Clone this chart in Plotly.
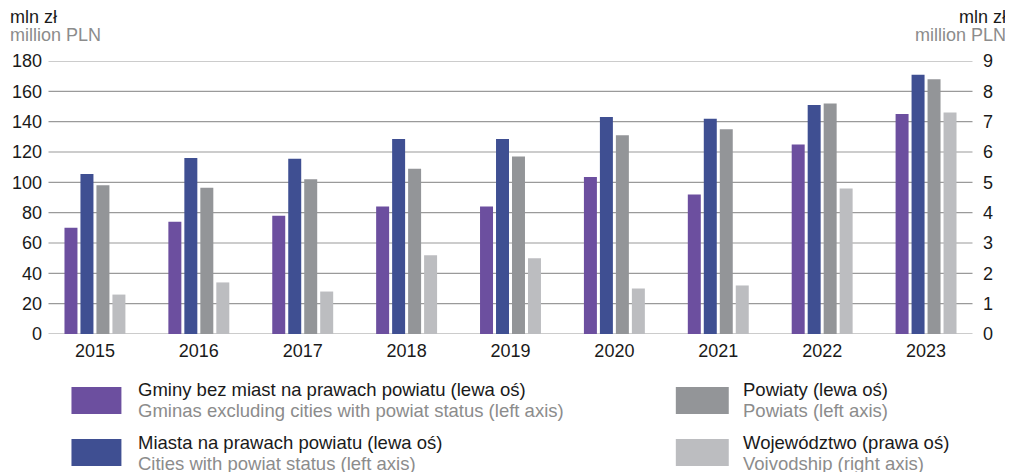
import plotly.graph_objects as go

years = ["2015", "2016", "2017", "2018", "2019", "2020", "2021", "2022", "2023"]
gminy = [70, 74, 78, 84, 84, 103.5, 92, 125, 145]
miasta = [105.5, 116, 115.5, 128.5, 128.5, 143, 142, 151, 171]
powiaty = [98, 96.5, 102, 109, 117, 131, 135, 152, 168]
wojewodztwo = [1.3, 1.7, 1.4, 2.6, 2.5, 1.5, 1.6, 4.8, 7.3]

left_ticks = [0, 20, 40, 60, 80, 100, 120, 140, 160, 180]
right_ticks = [0, 1, 2, 3, 4, 5, 6, 7, 8, 9]

names_pl = ["Gminy bez miast na prawach powiatu (lewa oś)",
            "Miasta na prawach powiatu (lewa oś)",
            "Powiaty (lewa oś)",
            "Województwo (prawa oś)"]
names_en = ["Gminas excluding cities with powiat status (left axis)",
            "Cities with powiat status (left axis)",
            "Powiats (left axis)",
            "Voivodship (right axis)"]
colors = ["#6c4f9f", "#3f4f92", "#939598", "#bcbdc0"]

FONT = "Liberation Sans, Arial, sans-serif"
GRAY_TXT = "#8c8c8c"
BLACK_TXT = "#1a1a1a"

# page is drawn with an 8px body margin, so work in page pixels and subtract it
OFF = 8
PW, PH = 1013, 472
W, H = PW - OFF, PH - OFF
# plot area in page pixels
PL, PR, PT, PB = 42.5, 978.5, 61, 334
L = PL - OFF
R = W - (PR - OFF)
T = PT - OFF
B = H - (PB - OFF)
pw = W - L - R
ph = H - T - B

cat_px = pw / len(years)
bar_px = 13
step_px = 16
group_px = 3 * step_px + bar_px


def px_x(xp):
    return (xp - OFF - L) / pw


def px_y(yp):
    return (H - (yp - OFF) - B) / ph


fig = go.Figure()
series = [gminy, miasta, powiaty, wojewodztwo]
for i, (vals, c, n) in enumerate(zip(series, colors, names_pl)):
    offset = (-group_px / 2 + i * step_px) / cat_px
    fig.add_trace(go.Bar(
        x=years, y=vals, name=n, marker=dict(color=c, line=dict(width=0)),
        width=bar_px / cat_px, offset=offset,
        yaxis="y2" if i == 3 else "y", showlegend=False,
    ))

shapes = []
for v in left_ticks:
    shapes.append(dict(type="line", xref="paper", yref="y", x0=px_x(48), x1=px_x(973),
                       y0=v, y1=v, line=dict(color="#9a9a9a", width=1.2), layer="below"))

annotations = []
for txt, yy, col in [("mln zł", 17, BLACK_TXT), ("million PLN", 35, GRAY_TXT)]:
    annotations.append(dict(text=txt, x=px_x(7), y=px_y(yy), xref="paper", yref="paper",
                            showarrow=False, xanchor="left", yanchor="middle",
                            font=dict(size=18, color=col, family=FONT)))
    annotations.append(dict(text=txt, x=px_x(1009), y=px_y(yy), xref="paper", yref="paper",
                            showarrow=False, xanchor="right", yanchor="middle",
                            font=dict(size=18, color=col, family=FONT)))

leg = [(71, 121, 136, 387, 414, 389, 410), (71, 121, 136, 439, 466, 442, 463),
       (676, 729, 741, 387, 414, 389, 410), (676, 729, 741, 439, 466, 442, 463)]
for k, (sx0, sx1, tx, sy0, sy1, ty1, ty2) in enumerate(leg):
    shapes.append(dict(type="rect", xref="paper", yref="paper",
                       x0=px_x(sx0), x1=px_x(sx1), y0=px_y(sy1), y1=px_y(sy0),
                       fillcolor=colors[k], line=dict(width=0)))
    annotations.append(dict(text=names_pl[k], x=px_x(tx), y=px_y(ty1), xref="paper", yref="paper",
                            showarrow=False, xanchor="left", yanchor="middle",
                            font=dict(size=18.5, color=BLACK_TXT, family=FONT)))
    annotations.append(dict(text=names_en[k], x=px_x(tx), y=px_y(ty2), xref="paper", yref="paper",
                            showarrow=False, xanchor="left", yanchor="middle",
                            font=dict(size=18.5, color=GRAY_TXT, family=FONT)))

fig.update_layout(
    width=W, height=H,
    margin=dict(l=L, r=R, t=T, b=B, pad=0, autoexpand=False),
    paper_bgcolor="white", plot_bgcolor="white",
    barmode="overlay",
    font=dict(family=FONT, size=18, color=BLACK_TXT),
    xaxis=dict(type="category", showgrid=False, showline=False, zeroline=False, automargin=False,
               ticks="", tickfont=dict(size=18, color=BLACK_TXT), ticklabelstandoff=4),
    yaxis=dict(range=[0, 180], tickvals=left_ticks, showgrid=False, zeroline=False, automargin=False,
               showline=False, ticks="", tickfont=dict(size=18, color=BLACK_TXT)),
    yaxis2=dict(range=[0, 9], tickvals=right_ticks, overlaying="y", side="right", automargin=False,
                showgrid=False, zeroline=False, showline=False, ticks="",
                tickfont=dict(size=18, color=BLACK_TXT), ticklabelstandoff=4),
    shapes=shapes, annotations=annotations, showlegend=False,
)

fig.write_html("out.html")
